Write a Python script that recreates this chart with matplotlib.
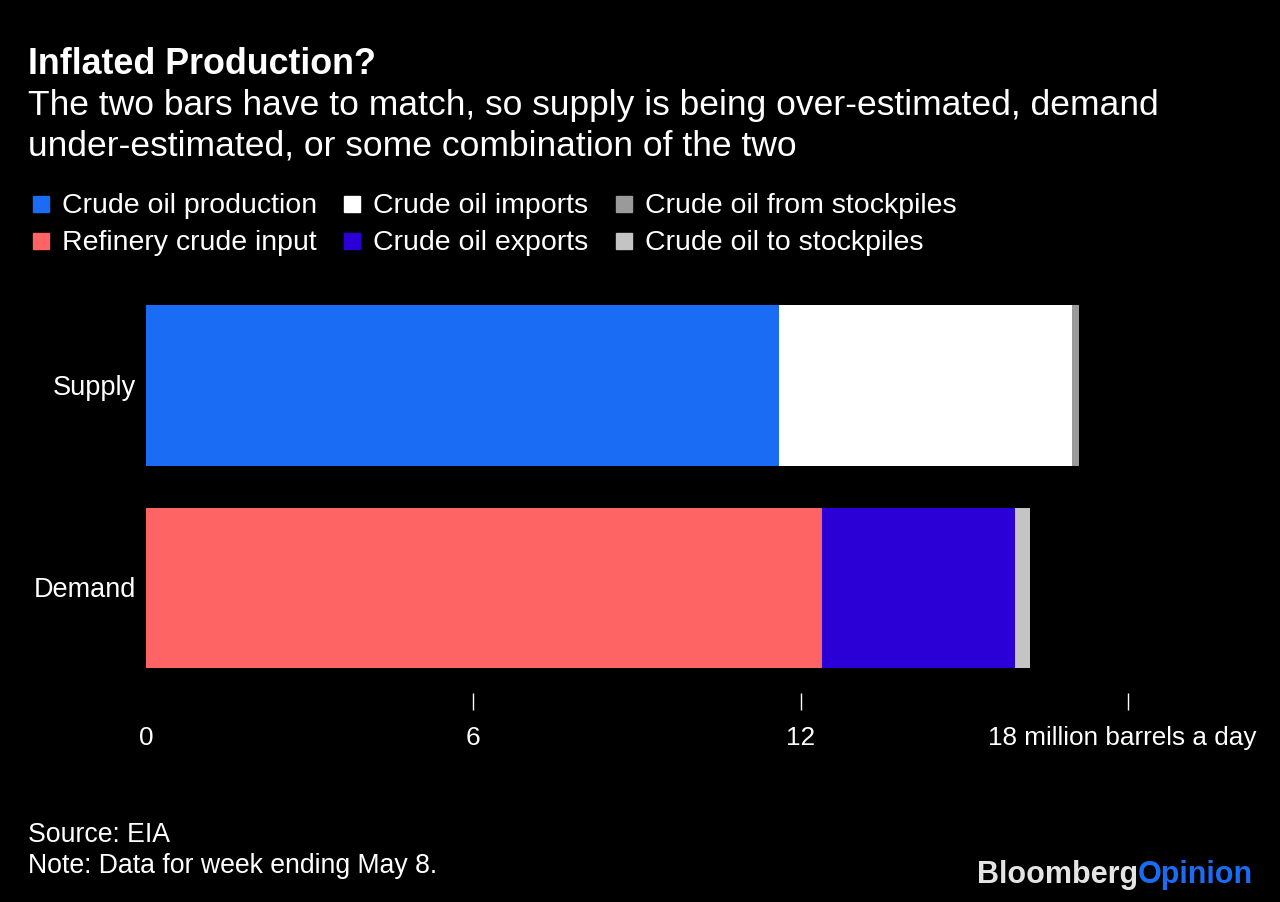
import matplotlib.pyplot as plt
import numpy as np

plt.rcParams['font.family'] = ['Liberation Sans', 'DejaVu Sans']

# data (million barrels a day, week ending May 8)
rows = ["Supply", "Demand"]
supply_parts = ["Crude oil production", "Crude oil imports", "Crude oil from stockpiles"]
supply_vals = [11.6, 5.37, 0.14]
demand_parts = ["Refinery crude input", "Crude oil exports", "Crude oil to stockpiles"]
demand_vals = [12.39, 3.54, 0.28]
supply_colors = ["#1a6cf5", "#ffffff", "#9a9a9a"]
demand_colors = ["#ff6464", "#2a00d6", "#c4c4c4"]
xticks = [0, 6, 12, 18]
xtick_labels = ["0", "6", "12", "18 million barrels a day"]

W, H = 1280, 902
dy = 2  # small nudge for text baseline
fig = plt.figure(figsize=(12.8, 9.02), dpi=100, facecolor="black")
ax = fig.add_axes([146/W, 1 - 710/H, (1128 - 146)/W, (710 - 290)/H])
ax.set_facecolor("black")

left = 0
for v, c in zip(supply_vals, supply_colors):
    ax.barh(0, v, left=left, height=0.795, color=c, linewidth=0)
    left += v
left = 0
for v, c in zip(demand_vals, demand_colors):
    ax.barh(1, v, left=left, height=0.795, color=c, linewidth=0)
    left += v

ax.set_xlim(0, 18)
ax.set_ylim(1.6025, -0.4716)
for s in ax.spines.values():
    s.set_visible(False)
ax.set_yticks([])
ax.set_xticks(xticks[1:])
ax.set_xticklabels([])
ax.tick_params(axis="x", direction="in", length=12, width=1, color="white")

# tick labels placed under the axis
for v, lab in zip(xticks, xtick_labels):
    xf = (146 + v * (1128 - 146) / 18) / W
    ha = "center"
    if v == xticks[-1]:
        xf = 988/W
        ha = "left"
    fig.text(xf, 1 - (736 + dy)/H, lab, fontsize=18.8, color="white", va="center", ha=ha)

for i, r in enumerate(rows):
    fig.text(136/W, 1 - (385.5 + dy + i*202.5)/H, r, fontsize=19.5, color="white",
             ha="right", va="center")

# titles
fig.text(28/W, 1 - (62 + dy)/H, "Inflated Production?", fontsize=25.8, fontweight="bold",
         color="white", va="center")
fig.text(28/W, 1 - (103 + dy)/H,
         "The two bars have to match, so supply is being over-estimated, demand",
         fontsize=25.5, color="white", va="center")
fig.text(28/W, 1 - (144 + dy)/H, "under-estimated, or some combination of the two",
         fontsize=25.5, color="white", va="center")

# legend
leg_x = [33, 344, 616]
leg_y = [204, 241]
for j, (names, cols) in enumerate([(supply_parts, supply_colors), (demand_parts, demand_colors)]):
    for i in range(3):
        fig.patches.append(plt.Rectangle((leg_x[i]/W, 1 - (leg_y[j] + 8)/H), 16/W, 16/H,
                                         transform=fig.transFigure, color=cols[i], figure=fig))
        fig.text((leg_x[i] + 29)/W, 1 - (leg_y[j] + dy)/H, names[i], fontsize=20.5,
                 color="white", va="center")

# footer
fig.text(28/W, 1 - (833 + dy)/H, "Source: EIA", fontsize=19.2, color="white", va="center")
fig.text(28/W, 1 - (864 + dy)/H, "Note: Data for week ending May 8.", fontsize=19.2,
         color="white", va="center")
t = fig.text(977/W, 1 - 875/H, "Bloomberg", fontsize=22, fontweight="bold",
             color="#e4e4e4", va="center")
fig.canvas.draw()
bb = t.get_window_extent()
fig.text(bb.x1/W, 1 - 875/H, "Opinion", fontsize=22, fontweight="bold",
         color="#1a6cf5", va="center")

fig.savefig("out.png", dpi=100, facecolor="black")
